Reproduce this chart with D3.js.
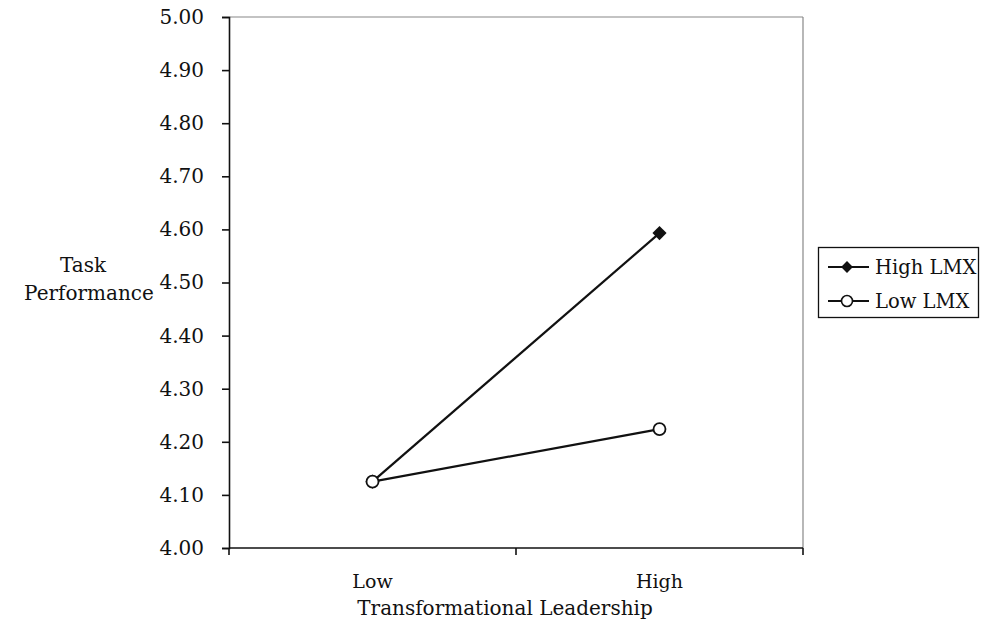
<!DOCTYPE html>
<html><head><meta charset="utf-8">
<script src="https://cdn.jsdelivr.net/npm/d3@7"></script>
<style>body{margin:0;background:#fff}text{font-family:"DejaVu Serif",serif;fill:#111}</style>
</head><body><svg id="c" width="981" height="629"></svg>
<script>
const categories = ["Low", "High"];
const seriesNames = ["High LMX", "Low LMX"];
const highLMX = [4.125, 4.593];
const lowLMX = [4.125, 4.224];
const yTicks = [4.00, 4.10, 4.20, 4.30, 4.40, 4.50, 4.60, 4.70, 4.80, 4.90, 5.00];

const svg = d3.select("#c");
const L = 229, R = 803, T = 17, B = 548;
const x = d3.scaleBand().domain(categories).range([L, R]).padding(0);
const y = d3.scaleLinear().domain([4, 5]).range([B, T]);

// frame top/right
svg.append("line").attr("x1", L).attr("x2", R).attr("y1", T).attr("y2", T).attr("stroke", "#888").attr("stroke-width", 1.2);
svg.append("line").attr("x1", R).attr("x2", R).attr("y1", T).attr("y2", B).attr("stroke", "#888").attr("stroke-width", 1.2);

// y axis
const ya = svg.append("g").attr("transform", `translate(${L},0)`)
  .call(d3.axisLeft(y).tickValues(yTicks).tickFormat(d3.format(".2f")).tickSize(7).tickPadding(18));
ya.select(".domain").attr("stroke", "#111").attr("stroke-width", 1.6);
ya.selectAll(".tick line").attr("stroke", "#111").attr("stroke-width", 1.6);
ya.selectAll(".tick text").style("font-size", "20px").style("font-family", "DejaVu Serif").attr("fill", "#111");

// x axis with boundary ticks
const xa = svg.append("g").attr("transform", `translate(0,${B})`);
xa.append("line").attr("x1", L).attr("x2", R).attr("stroke", "#111").attr("stroke-width", 1.6);
const bounds = [L, ...categories.map(c => x(c) + x.bandwidth())];
xa.selectAll(".bt").data(bounds).join("line").attr("x1", d => d).attr("x2", d => d)
  .attr("y1", 0).attr("y2", 7).attr("stroke", "#111").attr("stroke-width", 1.6);
xa.selectAll(".cl").data(categories).join("text")
  .attr("x", d => x(d) + x.bandwidth() / 2).attr("y", 40).attr("text-anchor", "middle")
  .style("font-size", "19px").text(d => d);

svg.append("text").attr("x", 505).attr("y", 615).attr("text-anchor", "middle").style("font-size", "20px").text("Transformational Leadership");
svg.append("text").attr("x", 83).attr("y", 272).attr("text-anchor", "middle").style("font-size", "20px").text("Task");
svg.append("text").attr("x", 89).attr("y", 300).attr("text-anchor", "middle").style("font-size", "20px").text("Performance");

const cx = d => x(d) + x.bandwidth() / 2;
const line = d3.line().x((d, i) => cx(categories[i])).y(d => y(d));
svg.append("path").datum(lowLMX).attr("d", line).attr("fill", "none").attr("stroke", "#111").attr("stroke-width", 2.2);
svg.append("path").datum(highLMX).attr("d", line).attr("fill", "none").attr("stroke", "#111").attr("stroke-width", 2.2);

const diamond = d3.symbol().type(d3.symbolSquare).size(100);
svg.selectAll(".hm").data(highLMX).join("path")
  .attr("d", diamond).attr("transform", (d, i) => `translate(${cx(categories[i])},${y(d)}) rotate(45)`)
  .attr("fill", "#111");
svg.selectAll(".lm").data(lowLMX).join("circle")
  .attr("cx", (d, i) => cx(categories[i])).attr("cy", d => y(d)).attr("r", 6)
  .attr("fill", "#fff").attr("stroke", "#111").attr("stroke-width", 1.8);

// legend
const lg = svg.append("g");
lg.append("rect").attr("x", 818.5).attr("y", 247.5).attr("width", 160).attr("height", 70).attr("fill", "#fff").attr("stroke", "#111").attr("stroke-width", 1.3);
seriesNames.forEach((n, i) => {
  const yy = 267 + i * 34;
  lg.append("line").attr("x1", 828).attr("x2", 869).attr("y1", yy).attr("y2", yy).attr("stroke", "#111").attr("stroke-width", 2);
  if (i === 0) lg.append("path").attr("d", d3.symbol().type(d3.symbolSquare).size(70)).attr("transform", `translate(847,${yy}) rotate(45)`).attr("fill", "#111");
  else lg.append("circle").attr("cx", 847).attr("cy", yy).attr("r", 5.5).attr("fill", "#fff").attr("stroke", "#111").attr("stroke-width", 1.6);
  lg.append("text").attr("x", 875).attr("y", yy + 7).style("font-size", "19.5px").text(n);
});
</script></body></html>
